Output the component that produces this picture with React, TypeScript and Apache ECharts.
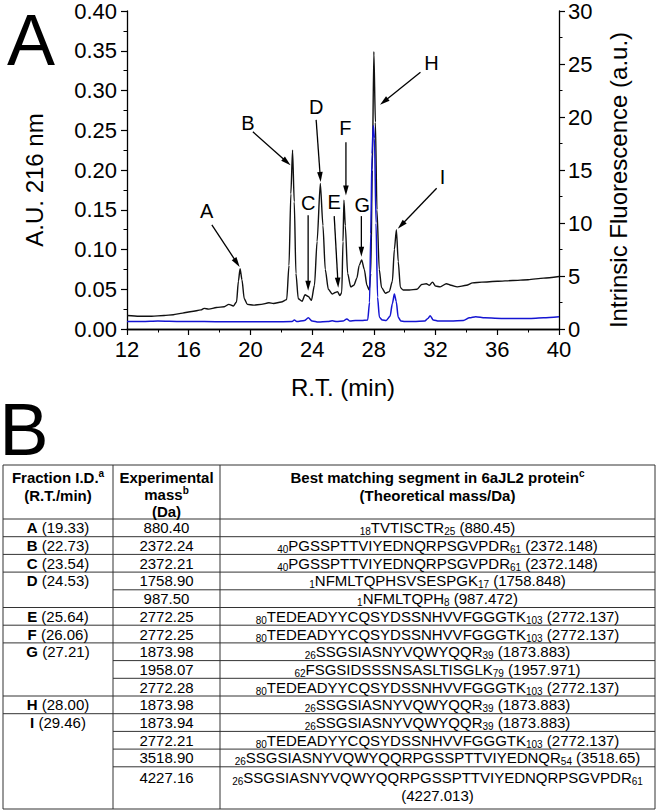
import React, { useEffect, useRef } from "react";
import * as echarts from "echarts";

// ---------- Panel A data ----------
const rtAbs = [12.0, 12.8, 13.6, 14.4, 15.0, 15.6, 16.2, 16.8, 17.0, 17.3, 17.8, 18.3, 18.6, 18.9, 19.1, 19.22, 19.33, 19.45, 19.6, 19.8, 20.2, 20.7, 21.2, 21.5, 22.0, 22.35, 22.5, 22.62, 22.73, 22.84, 22.95, 23.1, 23.35, 23.54, 23.75, 23.95, 24.15, 24.32, 24.53, 24.7, 24.85, 25.05, 25.3, 25.5, 25.64, 25.8, 25.92, 26.0, 26.06, 26.15, 26.3, 26.5, 26.7, 26.9, 27.05, 27.21, 27.38, 27.55, 27.7, 27.8, 27.9, 28.0, 28.1, 28.2, 28.35, 28.5, 28.75, 29.0, 29.2, 29.33, 29.46, 29.58, 29.72, 29.9, 30.3, 30.8, 31.1, 31.4, 31.6, 31.8, 32.0, 32.3, 32.7, 33.0, 33.4, 34.0, 34.4, 35.0, 36.0, 37.0, 38.0, 39.0, 40.0];
const auAbs = [0.017, 0.016, 0.016, 0.017, 0.018, 0.020, 0.022, 0.024, 0.026, 0.025, 0.027, 0.028, 0.031, 0.029, 0.034, 0.060, 0.076, 0.062, 0.038, 0.031, 0.030, 0.031, 0.033, 0.032, 0.034, 0.037, 0.080, 0.170, 0.225, 0.160, 0.070, 0.038, 0.035, 0.043, 0.041, 0.036, 0.055, 0.110, 0.183, 0.130, 0.075, 0.050, 0.044, 0.046, 0.047, 0.042, 0.046, 0.110, 0.162, 0.130, 0.070, 0.053, 0.055, 0.064, 0.080, 0.087, 0.075, 0.055, 0.049, 0.070, 0.200, 0.349, 0.260, 0.150, 0.075, 0.052, 0.045, 0.047, 0.060, 0.100, 0.125, 0.085, 0.052, 0.049, 0.049, 0.050, 0.056, 0.057, 0.055, 0.059, 0.054, 0.053, 0.057, 0.055, 0.053, 0.055, 0.058, 0.059, 0.060, 0.061, 0.062, 0.064, 0.066];

const rtFluo = [12.0, 13.0, 14.0, 15.5, 17.0, 18.5, 20.0, 21.5, 22.7, 22.85, 23.0, 23.5, 23.75, 24.0, 24.4, 25.0, 25.3, 25.6, 26.0, 26.25, 26.45, 26.8, 27.2, 27.6, 27.72, 27.8, 27.88, 27.96, 28.04, 28.14, 28.24, 28.36, 28.55, 28.8, 29.05, 29.2, 29.33, 29.45, 29.58, 29.75, 30.0, 30.6, 31.3, 31.5, 31.65, 31.85, 32.2, 33.0, 33.8, 34.2, 34.6, 35.2, 36.5, 38.0, 39.0, 40.0];
const fluo = [0.7, 0.7, 0.75, 0.7, 0.7, 0.68, 0.68, 0.68, 0.7, 0.85, 0.7, 0.8, 1.05, 0.75, 0.65, 0.7, 0.78, 0.7, 0.75, 0.95, 0.75, 0.8, 0.8, 0.85, 2.5, 9.0, 16.5, 19.2, 18.0, 10.0, 3.0, 1.1, 0.85, 0.8, 1.2, 2.4, 3.3, 2.6, 1.1, 0.75, 0.7, 0.7, 0.75, 1.0, 1.25, 0.85, 0.75, 0.75, 0.8, 1.05, 1.15, 1.05, 1.0, 1.0, 1.05, 1.15];

// peak annotations (data coordinates of the left axis)
const peakLabels = ["A", "B", "C", "D", "E", "F", "G", "H", "I"];
const labelRT = [17.17, 19.84, 23.74, 24.26, 25.43, 26.15, 27.25, 31.74, 32.45];
const labelAU = [0.148, 0.259, 0.158, 0.279, 0.160, 0.253, 0.156, 0.335, 0.191];
const tailRT = [17.5, 20.16, 23.74, 24.26, 25.43, 26.19, 27.19, 31.02, 32.07];
const tailAU = [0.131, 0.248, 0.143, 0.263, 0.142, 0.235, 0.142, 0.323, 0.177];
const headRT = [19.3, 22.6, 23.74, 24.55, 25.69, 26.19, 27.19, 28.4, 29.55];
const headAU = [0.078, 0.206, 0.048, 0.185, 0.052, 0.168, 0.091, 0.282, 0.126];

// ---------- Panel B data ----------
const fractionIds = ["A", "B", "C", "D", "E", "F", "G", "H", "I"];
const fractionRT = ["19.33", "22.73", "23.54", "24.53", "25.64", "26.06", "27.21", "28.00", "29.46"];
const fractionRows = [1, 1, 1, 2, 1, 1, 3, 1, 4];
const expMass = ["880.40", "2372.24", "2372.21", "1758.90", "987.50", "2772.25", "2772.25", "1873.98", "1958.07", "2772.28", "1873.98", "1873.94", "2772.21", "3518.90", "4227.16"];
const segStart = ["18", "40", "40", "1", "1", "80", "80", "26", "62", "80", "26", "26", "80", "26", "26"];
const segSeq = [
  "TVTISCTR",
  "PGSSPTTVIYEDNQRPSGVPDR",
  "PGSSPTTVIYEDNQRPSGVPDR",
  "NFMLTQPHSVSESPGK",
  "NFMLTQPH",
  "TEDEADYYCQSYDSSNHVVFGGGTK",
  "TEDEADYYCQSYDSSNHVVFGGGTK",
  "SSGSIASNYVQWYQQR",
  "FSGSIDSSSNSASLTISGLK",
  "TEDEADYYCQSYDSSNHVVFGGGTK",
  "SSGSIASNYVQWYQQR",
  "SSGSIASNYVQWYQQR",
  "TEDEADYYCQSYDSSNHVVFGGGTK",
  "SSGSIASNYVQWYQQRPGSSPTTVIYEDNQR",
  "SSGSIASNYVQWYQQRPGSSPTTVIYEDNQRPSGVPDR",
];
const segEnd = ["25", "61", "61", "17", "8", "103", "103", "39", "79", "103", "39", "39", "103", "54", "61"];
const theoMass = ["880.45", "2372.148", "2372.148", "1758.848", "987.472", "2772.137", "2772.137", "1873.883", "1957.971", "2772.137", "1873.883", "1873.883", "2772.137", "3518.65", "4227.013"];
const wrapRow = [false, false, false, false, false, false, false, false, false, false, false, false, false, false, true];

const FONT = "'Liberation Sans', Arial, Helvetica, sans-serif";

export default function App() {
  const ref = useRef<HTMLDivElement>(null);

  useEffect(() => {
    const chart = echarts.init(ref.current as HTMLDivElement, null, { renderer: "svg" });
    const axisLine = { show: true, lineStyle: { color: "#000", width: 1.3 } };
    const axisLabel = { color: "#000", fontSize: 22, fontFamily: FONT };

    chart.setOption({
      animation: false,
      backgroundColor: "#fff",
      grid: { left: 127, right: 101, top: 11, bottom: 482, containLabel: false },
      xAxis: [
        {
          type: "value", min: 12, max: 40, interval: 4,
          axisLine, axisLabel: { ...axisLabel, margin: 9 },
          axisTick: { show: true, length: 6, lineStyle: { color: "#000", width: 1.2 } },
          minorTick: { show: true, splitNumber: 2, length: 3.5, lineStyle: { color: "#000", width: 1 } },
          splitLine: { show: false },
          name: "R.T. (min)", nameLocation: "middle", nameGap: 46,
          nameTextStyle: { color: "#000", fontSize: 24, fontFamily: FONT },
        },
        {
          type: "value", min: 12, max: 40, position: "top",
          axisLine, axisLabel: { show: false }, axisTick: { show: false }, splitLine: { show: false },
        },
      ],
      yAxis: [
        {
          type: "value", min: 0, max: 0.4, interval: 0.05, position: "left",
          axisLine, axisLabel: { ...axisLabel, margin: 10, formatter: (v: number) => v.toFixed(2) },
          axisTick: { show: true, length: 6, lineStyle: { color: "#000", width: 1.2 } },
          minorTick: { show: true, splitNumber: 2, length: 3.5, lineStyle: { color: "#000", width: 1 } },
          splitLine: { show: false },
        },
        {
          type: "value", min: 0, max: 30, interval: 5, position: "right",
          axisLine, axisLabel: { ...axisLabel, margin: 9 },
          axisTick: { show: true, length: 6, lineStyle: { color: "#000", width: 1.2 } },
          minorTick: { show: true, splitNumber: 2, length: 3.5, lineStyle: { color: "#000", width: 1 } },
          splitLine: { show: false },
        },
      ],
      series: [
        {
          name: "A.U. 216 nm", type: "line", xAxisIndex: 0, yAxisIndex: 0,
          data: rtAbs.map((x, i) => [x, auAbs[i]]).filter((p) => p[1] !== undefined),
          showSymbol: false, smooth: 0.25, smoothMonotone: "x",
          lineStyle: { color: "#111", width: 1.4 }, z: 2,
        },
        {
          name: "Intrinsic Fluorescence", type: "line", xAxisIndex: 0, yAxisIndex: 1,
          data: rtFluo.map((x, i) => [x, fluo[i]]).filter((p) => p[1] !== undefined),
          showSymbol: false, smooth: 0.25, smoothMonotone: "x",
          lineStyle: { color: "#1414d2", width: 1.5 }, z: 3,
        },
      ],
    });

    const g: any[] = [];
    const toPx = (x: number, y: number) =>
      chart.convertToPixel({ xAxisIndex: 0, yAxisIndex: 0 }, [x, y]) as number[];

    // panel letters and axis titles
    g.push({ type: "text", x: 31, y: 40, style: { text: "A", fontSize: 72, fontFamily: FONT, fill: "#000", align: "center", verticalAlign: "middle" } });
    g.push({ type: "text", x: 24, y: 429, style: { text: "B", fontSize: 74, fontFamily: FONT, fill: "#000", align: "center", verticalAlign: "middle" } });
    g.push({ type: "text", x: 34, y: 180, rotation: Math.PI / 2, style: { text: "A.U. 216 nm", fontSize: 24, fontFamily: FONT, fill: "#000", align: "center", verticalAlign: "middle" } });
    g.push({ type: "text", x: 618, y: 180, rotation: Math.PI / 2, style: { text: "Intrinsic Fluorescence (a.u.)", fontSize: 24, fontFamily: FONT, fill: "#000", align: "center", verticalAlign: "middle" } });

    // peak arrows
    peakLabels.forEach((lab, i) => {
      const l = toPx(labelRT[i], labelAU[i]);
      const t = toPx(tailRT[i], tailAU[i]);
      const h = toPx(headRT[i], headAU[i]);
      const dx = h[0] - t[0], dy = h[1] - t[1];
      const len = Math.sqrt(dx * dx + dy * dy);
      const ux = dx / len, uy = dy / len;
      const hl = 10, hw = 2.8;
      const bx = h[0] - ux * hl, by = h[1] - uy * hl;
      g.push({ type: "line", shape: { x1: t[0], y1: t[1], x2: bx + ux * 2, y2: by + uy * 2 }, style: { stroke: "#000", lineWidth: 1.3 }, z: 10 });
      g.push({ type: "polygon", shape: { points: [[h[0], h[1]], [bx - uy * hw, by + ux * hw], [bx + uy * hw, by - ux * hw]] }, style: { fill: "#000" }, z: 10 });
      g.push({ type: "text", x: l[0], y: l[1], style: { text: lab, fontSize: 20, fontFamily: FONT, fill: "#000", align: "center", verticalAlign: "middle" }, z: 10 });
    });

    // ---------- table ----------
    const colX = [3, 113, 220, 655];
    const tableTop = 465, headBottom = 519, rowH = 17.7, tableBottom = 809;
    const nRows = expMass.length;
    const rowTop = (i: number) => headBottom + i * rowH;
    const lineStyle = { stroke: "#333", lineWidth: 1 };
    const rich = {
      m: { fontSize: 15, fontFamily: FONT, fill: "#000", lineHeight: 18 },
      b: { fontSize: 15, fontFamily: FONT, fill: "#000", fontWeight: "bold", lineHeight: 18 },
      s: { fontSize: 10, fontFamily: FONT, fill: "#000", verticalAlign: "bottom", lineHeight: 10 },
      sup: { fontSize: 10, fontFamily: FONT, fill: "#000", fontWeight: "bold", verticalAlign: "top", lineHeight: 10 },
    };
    const txt = (x: number, y: number, text: string) =>
      g.push({ type: "text", x, y, style: { text, rich, align: "center", verticalAlign: "middle", fontSize: 15, fontFamily: FONT, fill: "#000" } });

    // horizontal lines
    g.push({ type: "line", shape: { x1: colX[0], y1: tableTop, x2: colX[3], y2: tableTop }, style: lineStyle });
    g.push({ type: "line", shape: { x1: colX[0], y1: headBottom, x2: colX[3], y2: headBottom }, style: lineStyle });
    g.push({ type: "line", shape: { x1: colX[0], y1: tableBottom, x2: colX[3], y2: tableBottom }, style: lineStyle });
    const groupStarts: number[] = [];
    let acc = 0;
    fractionRows.forEach((n) => { groupStarts.push(acc); acc += n; });
    for (let i = 1; i < nRows; i++) {
      const full = groupStarts.indexOf(i) >= 0;
      g.push({ type: "line", shape: { x1: full ? colX[0] : colX[1], y1: rowTop(i), x2: colX[3], y2: rowTop(i) }, style: lineStyle });
    }
    colX.forEach((x) => g.push({ type: "line", shape: { x1: x, y1: tableTop, x2: x, y2: tableBottom }, style: lineStyle }));

    // header
    const c1 = (colX[0] + colX[1]) / 2, c2 = (colX[1] + colX[2]) / 2, c3 = (colX[2] + colX[3]) / 2;
    txt(c1, 477, "{b|Fraction I.D.}{sup|a}");
    txt(c1, 495, "{b|(R.T./min)}");
    txt(c2, 477, "{b|Experimental}");
    txt(c2, 494, "{b|mass}{sup|b}");
    txt(c2, 511, "{b|(Da)}");
    txt(c3, 477, "{b|Best matching segment in 6aJL2 protein}{sup|c}");
    txt(c3, 495, "{b|(Theoretical mass/Da)}");

    // fraction column
    fractionIds.forEach((id, k) => {
      txt(c1, rowTop(groupStarts[k]) + rowH / 2, `{b|${id}}{m| (${fractionRT[k]})}`);
    });
    // rows
    for (let i = 0; i < nRows; i++) {
      const yc = rowTop(i) + rowH / 2 + (wrapRow[i] ? 2 : 0);
      txt(c2, yc, `{m|${expMass[i]}}`);
      if (wrapRow[i]) {
        txt(c3, yc, `{s|${segStart[i]}}{m|${segSeq[i]}}{s|${segEnd[i]}}`);
        txt(c3, yc + 18, `{m|(${theoMass[i]})}`);
      } else {
        txt(c3, yc, `{s|${segStart[i]}}{m|${segSeq[i]}}{s|${segEnd[i]}}{m| (${theoMass[i]})}`);
      }
    }

    chart.setOption({ graphic: g });
    return () => chart.dispose();
  }, []);

  return <div ref={ref} style={{ position: "absolute", left: 0, top: 0, width: 660, height: 811 }} />;
}
